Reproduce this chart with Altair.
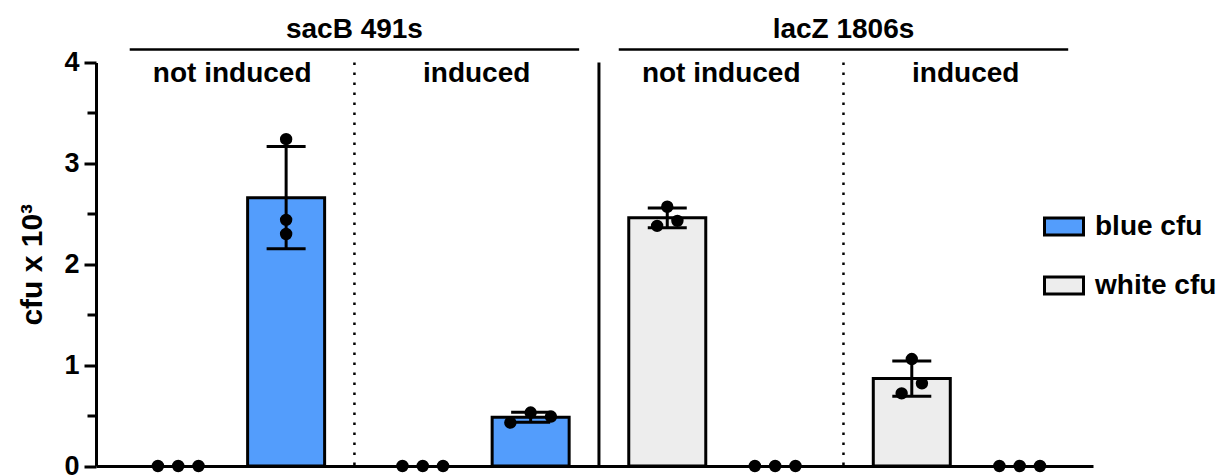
import altair as alt
import pandas as pd

# ---- data: cfu x 10^3, three replicate plates per bar ----
groups = ["sacB 491s", "lacZ 1806s"]
conditions = ["not induced", "induced"]
series = ["white cfu", "blue cfu"]

sacB_not_induced_white = [0.0, 0.0, 0.0]
sacB_not_induced_blue = [3.24, 2.44, 2.30]
sacB_induced_white = [0.0, 0.0, 0.0]
sacB_induced_blue = [0.43, 0.53, 0.49]
lacZ_not_induced_white = [2.57, 2.38, 2.43]
lacZ_not_induced_blue = [0.0, 0.0, 0.0]
lacZ_induced_white = [1.06, 0.72, 0.82]
lacZ_induced_blue = [0.0, 0.0, 0.0]

replicates = {
    ("sacB 491s", "not induced", "white cfu"): sacB_not_induced_white,
    ("sacB 491s", "not induced", "blue cfu"): sacB_not_induced_blue,
    ("sacB 491s", "induced", "white cfu"): sacB_induced_white,
    ("sacB 491s", "induced", "blue cfu"): sacB_induced_blue,
    ("lacZ 1806s", "not induced", "white cfu"): lacZ_not_induced_white,
    ("lacZ 1806s", "not induced", "blue cfu"): lacZ_not_induced_blue,
    ("lacZ 1806s", "induced", "white cfu"): lacZ_induced_white,
    ("lacZ 1806s", "induced", "blue cfu"): lacZ_induced_blue,
}

# ---- layout (pixels of the plot area) ----
W, H = 997, 403.5
Y_MAX = 4
PX_PER_UNIT = H / Y_MAX
SUB_FIRST = 132.5      # centre of the first condition block
SUB_STEP = 247         # distance between condition blocks
PAIR_HALF = 54.5       # half distance between the two bars of a block
DOT_STEP = 20.5        # horizontal spacing of dots sharing a row
DOT_ROW = 12           # dots closer than this (px) vertically share a row
FONT = "Liberation Sans"
BLUE = "#539DFC"
LIGHT = "#EDEDED"


def dot_offsets(vals):
    """Spread replicate dots sideways when they would overlap vertically."""
    n = len(vals)
    order = sorted(range(n), key=lambda i: vals[i])
    clusters, current = [], [order[0]]
    for i in order[1:]:
        if (vals[i] - vals[current[-1]]) * PX_PER_UNIT < DOT_ROW:
            current.append(i)
        else:
            clusters.append(current)
            current = [i]
    clusters.append(current)
    offs = [0.0] * n
    for cl in clusters:
        m = len(cl)
        for j, i in enumerate(sorted(cl)):
            offs[i] = (j - (m - 1) / 2) * DOT_STEP
    return offs


rows, sub_rows, sep_rows, hdr_rows = [], [], [], []
for g_idx, g in enumerate(groups):
    centres = []
    for c_idx, c in enumerate(conditions):
        k = g_idx * len(conditions) + c_idx
        centre = SUB_FIRST + SUB_STEP * k
        centres.append(centre)
        sub_rows.append({"label": c, "xc": centre})
        for s_idx, s in enumerate(series):
            xpos = centre + (s_idx - 0.5) * 2 * PAIR_HALF
            vals = replicates[(g, c, s)]
            for r, (v, off) in enumerate(zip(vals, dot_offsets(vals))):
                rows.append({"group": g, "condition": c, "series": s, "rep": r,
                             "value": v, "xpos": xpos, "xdot": xpos + off})
    g_centre = sum(centres) / len(centres)
    hdr_rows.append({"label": g, "xc": g_centre,
                     "x0": g_centre - 227, "x1": g_centre + 227})
    sep_rows.append({"x": g_centre, "kind": "dotted"})
    if g_idx > 0:
        sep_rows.append({"x": SUB_FIRST + SUB_STEP * (2 * g_idx - 0.5), "kind": "solid"})

df = pd.DataFrame(rows)
sub_df = pd.DataFrame(sub_rows)
sep_df = pd.DataFrame(sep_rows)
hdr_df = pd.DataFrame(hdr_rows)

x_scale = alt.Scale(domain=[0, W], nice=False, zero=False)
x_axis = alt.Axis(labels=False, ticks=False, title=None, grid=False,
                  domainColor="black", domainWidth=3)
y_scale = alt.Scale(domain=[0, Y_MAX], nice=False)
y_axis = alt.Axis(
    values=[0, 0.5, 1, 1.5, 2, 2.5, 3, 3.5, 4],
    labelExpr="datum.value % 1 === 0 ? '' + datum.value : ''",
    tickSize={"condition": {"test": "datum.value % 1 === 0", "value": 12}, "value": 9},
    tickWidth=3, tickColor="black", domainColor="black", domainWidth=3,
    grid=False, labelFont=FONT, labelFontSize=27, labelFontWeight="bold",
    labelColor="black", labelPadding=5,
    title="cfu x 10³", titleFont=FONT, titleFontSize=30, titleFontWeight="bold",
    titleColor="black", titlePadding=16,
)


def xq(field):
    return alt.X(f"{field}:Q", scale=x_scale, axis=x_axis)


def yq(field):
    return alt.Y(f"{field}:Q", scale=y_scale, axis=y_axis, stack=None)


base = alt.Chart(df)

# mean and sample SD of the replicates for every bar
stats = base.transform_aggregate(
    m="mean(value)", sd="stdev(value)", groupby=["xpos", "series"]
).transform_calculate(lo="datum.m - datum.sd", hi="datum.m + datum.sd")

bars = stats.transform_filter("datum.m > 0").mark_bar(
    size=77, stroke="black", strokeWidth=3, strokeJoin="miter"
).encode(
    x=xq("xpos"),
    y=yq("m"),
    color=alt.Color(
        "series:N",
        scale=alt.Scale(domain=["blue cfu", "white cfu"], range=[BLUE, LIGHT]),
        legend=alt.Legend(
            title=None, orient="none", legendX=947, legendY=143,
            symbolType="M-1,-0.44H1V0.44H-1Z", symbolSize=1521,
            symbolStrokeColor="black", symbolStrokeWidth=3, symbolOpacity=1,
            labelFont=FONT, labelFontSize=28, labelFontWeight="bold",
            labelColor="black", labelOffset=10, rowPadding=23,
        ),
    ),
)

spread = stats.transform_filter("datum.sd > 0")
err_rule = spread.mark_rule(color="black", strokeWidth=3).encode(
    x=xq("xpos"), y=yq("lo"), y2="hi:Q")
err_caps = spread.transform_fold(["lo", "hi"], as_=["end", "yv"]).mark_tick(
    orient="horizontal", size=39, thickness=3, color="black", opacity=1
).encode(x=xq("xpos"), y=yq("yv"))

dots = base.mark_circle(size=154, color="black", opacity=1).encode(
    x=xq("xdot"), y=yq("value"))

dotted = alt.Chart(sep_df).transform_filter("datum.kind === 'dotted'").mark_rule(
    color="black", strokeWidth=2.5, strokeDash=[2.5, 7.5]
).encode(x=xq("x"), y=alt.value(0), y2=alt.value(H))
solid = alt.Chart(sep_df).transform_filter("datum.kind === 'solid'").mark_rule(
    color="black", strokeWidth=3
).encode(x=xq("x"), y=alt.value(0), y2=alt.value(H))

hdr_text = alt.Chart(hdr_df).mark_text(
    font=FONT, fontSize=28, fontWeight="bold", color="black",
    align="center", baseline="alphabetic"
).encode(x=xq("xc"), y=alt.value(-24.5), text="label:N")
hdr_line = alt.Chart(hdr_df).mark_rule(color="black", strokeWidth=2.5).encode(
    x=xq("x0"), x2="x1:Q", y=alt.value(-13))

sub_text = alt.Chart(sub_df).mark_text(
    font=FONT, fontSize=28, fontWeight="bold", color="black",
    align="center", baseline="alphabetic"
).encode(x=xq("xc"), y=alt.value(19.5), text="label:N")

chart = alt.layer(
    dotted, solid, bars, err_rule, err_caps, dots, hdr_line, hdr_text, sub_text
).properties(
    width=W, height=H,
    autosize=alt.AutoSizeParams(type="none"),
    padding={"left": 96, "top": 62.5, "right": 129, "bottom": 9},
    background="white",
).configure_view(stroke=None)

chart.save("out.html", embed_options={"renderer": "svg", "actions": False})
